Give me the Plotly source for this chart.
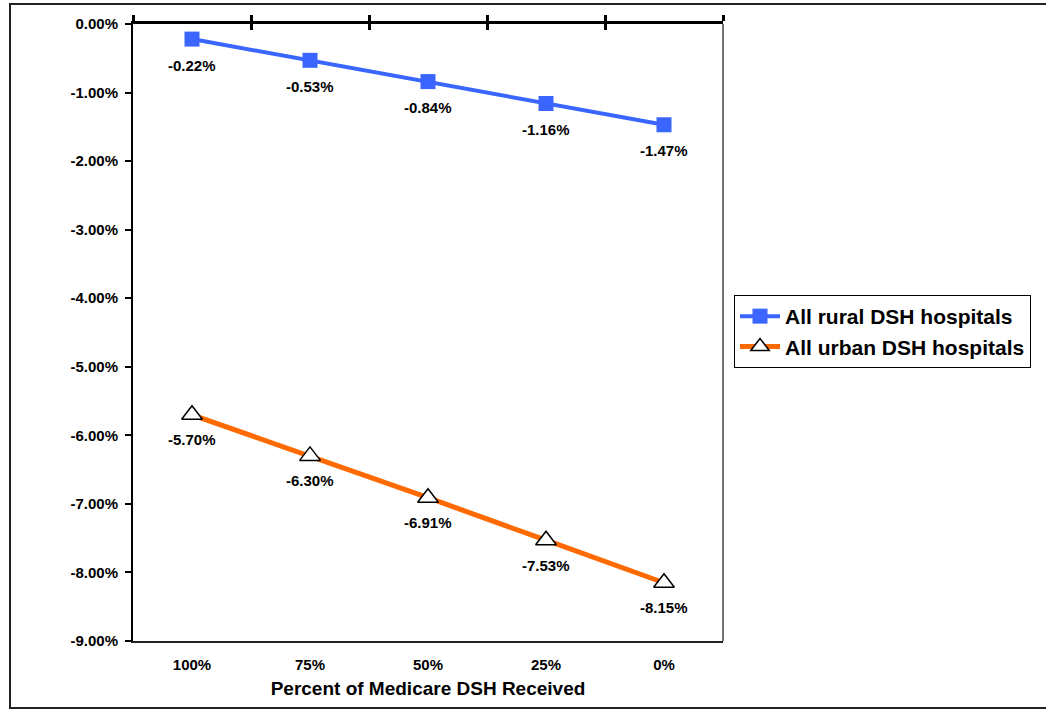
import plotly.graph_objects as go

categories = ["100%", "75%", "50%", "25%", "0%"]
rural = [-0.0022, -0.0053, -0.0084, -0.0116, -0.0147]
urban = [-0.0570, -0.0630, -0.0691, -0.0753, -0.0815]
rural_labels = ["-0.22%", "-0.53%", "-0.84%", "-1.16%", "-1.47%"]
urban_labels = ["-5.70%", "-6.30%", "-6.91%", "-7.53%", "-8.15%"]
y_ticks = [0, -0.01, -0.02, -0.03, -0.04, -0.05, -0.06, -0.07, -0.08, -0.09]
y_ticktext = ["0.00%", "-1.00%", "-2.00%", "-3.00%", "-4.00%", "-5.00%",
              "-6.00%", "-7.00%", "-8.00%", "-9.00%"]

W, H = 1046, 710
L, R, T, B = 133, 723, 24, 641
FONT = "Liberation Sans, Arial, sans-serif"

def b(s):
    return "<b>" + s + "</b>"

fig = go.Figure()
fig.add_trace(go.Scatter(
    x=categories, y=rural, mode="lines+markers", name=b("All rural DSH hospitals"),
    line=dict(color="#3A66FF", width=4),
    marker=dict(symbol="square", size=15, color="#3A66FF"),
))
fig.add_trace(go.Scatter(
    x=categories, y=urban, mode="lines+markers", name=b("All urban DSH hospitals"),
    line=dict(color="#FF6A00", width=5),
    marker=dict(symbol="triangle-up", size=18, color="white",
                line=dict(color="black", width=1.5)),
))
# invisible traces to hold top-axis tick marks
fig.add_trace(go.Scatter(x=[-0.5, 4.5], y=[0, 0], xaxis="x2", mode="lines",
                         line=dict(width=0), showlegend=False, hoverinfo="skip"))
fig.add_trace(go.Scatter(x=[-0.5, 4.5], y=[0, 0], xaxis="x3", mode="lines",
                         line=dict(width=0), showlegend=False, hoverinfo="skip"))

annotations = []
for c, v, t in zip(categories, rural, rural_labels):
    annotations.append(dict(x=c, y=v, text=b(t), showarrow=False, yshift=-26,
                            font=dict(family=FONT, size=15, color="black")))
for c, v, t in zip(categories, urban, urban_labels):
    annotations.append(dict(x=c, y=v, text=b(t), showarrow=False, yshift=-25,
                            font=dict(family=FONT, size=15, color="black")))

def px_x(p):
    return (p - L) / (R - L)

def px_y(p):
    return (B - p) / (B - T)

shapes = [
    dict(type="rect", xref="paper", yref="paper",
         x0=px_x(10), x1=px_x(1060), y0=px_y(708), y1=px_y(4),
         line=dict(color="#222222", width=2), layer="below"),
    dict(type="line", xref="paper", yref="paper", x0=1, x1=1, y0=0, y1=1,
         line=dict(color="#444444", width=1.5)),
]

fig.update_layout(
    width=W, height=H,
    margin=dict(l=L, r=W - R, t=T, b=H - B, pad=0),
    paper_bgcolor="white", plot_bgcolor="white",
    font=dict(family=FONT, size=15, color="black"),
    xaxis=dict(
        type="category", range=[-0.5, 4.5], showgrid=False, zeroline=False,
        showline=True, linecolor="#222222", linewidth=2,
        tickvals=categories, ticktext=[b(c) for c in categories],
        ticks="", tickfont=dict(size=15), ticklabelstandoff=9,
        title=dict(text=b("Percent of Medicare DSH Received"),
                   font=dict(size=19), standoff=10),
        fixedrange=True,
    ),
    xaxis2=dict(
        overlaying="x", side="top", range=[-0.5, 4.5], showgrid=False,
        zeroline=False, showline=True, linecolor="black", linewidth=3,
        tickvals=[-0.5, 0.5, 1.5, 2.5, 3.5, 4.5], ticks="outside", ticklen=6,
        tickwidth=3, tickcolor="black", showticklabels=False,
    ),
    xaxis3=dict(
        overlaying="x", side="top", range=[-0.5, 4.5], showgrid=False,
        zeroline=False, showline=False,
        tickvals=[-0.5, 0.5, 1.5, 2.5, 3.5, 4.5], ticks="inside", ticklen=6,
        tickwidth=3, tickcolor="black", showticklabels=False,
    ),
    yaxis=dict(
        range=[-0.09, 0], tickvals=y_ticks, ticktext=[b(t) for t in y_ticktext],
        showgrid=False, zeroline=False, showline=True, linecolor="black",
        linewidth=2, ticks="outside", ticklen=6, tickwidth=1.5, tickcolor="black",
        tickfont=dict(size=15), ticklabelstandoff=4,
    ),
    legend=dict(
        x=px_x(734), y=px_y(295), xanchor="left", yanchor="top",
        bordercolor="black", borderwidth=1, bgcolor="white",
        font=dict(size=21), tracegroupgap=0, itemwidth=40,
    ),
    annotations=annotations,
    shapes=shapes,
    showlegend=True,
)

fig.write_html("out.html")
